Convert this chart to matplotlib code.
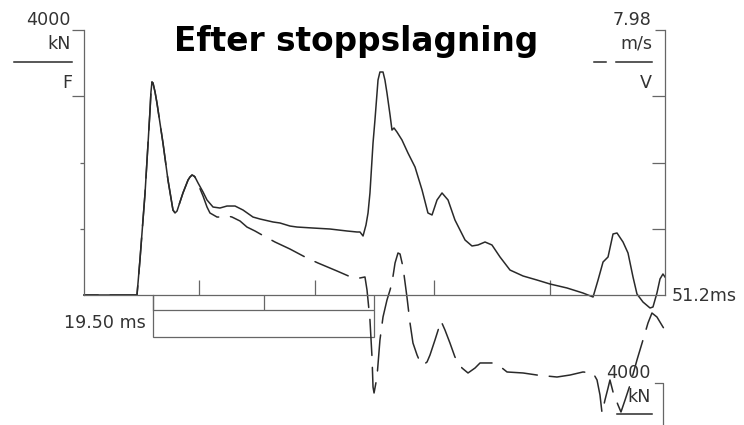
import matplotlib
matplotlib.use("Agg")
import matplotlib.pyplot as plt
from matplotlib.patches import Rectangle

# ---- data -------------------------------------------------------------
# Force signal F (kN) versus time (ms)
f_time = [0.0, 4.67, 4.93, 5.38, 5.82, 5.90, 5.99, 6.08, 6.26, 6.43, 6.96, 7.40,
          7.84, 8.02, 8.20, 8.37, 8.72, 9.17, 9.34, 9.52, 9.69, 9.78, 10.05,
          10.49, 10.84, 11.37, 11.98, 12.60, 13.31, 14.01, 14.89, 15.51, 16.66,
          17.27, 18.15, 18.77, 20.18, 21.68, 23.18, 24.06, 24.32, 24.59, 24.85,
          25.03, 25.20, 25.47, 25.64, 25.91, 26.08, 26.35, 26.52, 26.70, 26.97,
          27.14, 27.32, 27.58, 28.02, 28.55, 29.17, 29.79, 30.31, 30.67, 31.11,
          31.55, 32.08, 32.69, 33.58, 34.19, 34.72, 35.34, 35.95, 36.66, 37.54,
          38.69, 39.92, 41.07, 42.56, 43.97, 44.86, 45.30, 45.74, 46.18, 46.62,
          46.97, 47.50, 47.94, 48.38, 48.73, 49.26, 49.88, 50.14, 50.49, 50.76,
          51.02, 51.2]
f_kn = [0, 0, 528, 1540, 2792, 3064, 3215, 3200, 3064, 2898, 2294, 1736,
        1283, 1238, 1268, 1358, 1540, 1736, 1781, 1811, 1796, 1781, 1691,
        1555, 1434, 1328, 1313, 1343, 1343, 1283, 1177, 1147, 1102,
        1087, 1041, 1026, 1011, 996, 966, 951, 951, 891, 1057,
        1238, 1540, 2294, 2641, 3245, 3366, 3366, 3245, 3049, 2717,
        2490, 2521, 2460, 2340, 2143, 1932, 1585, 1238, 1208, 1434,
        1540, 1434, 1132, 830, 740, 755, 800, 755, 574, 377,
        287, 226, 166, 106, 30, -30, 226, 498, 574, 921,
        936, 800, 634, 272, 15, -106, -196, -181, 30, 242,
        317, 272]

# Velocity signal V, scaled by impedance (kN equivalent, 4000 kN = 7.98 m/s)
v_time = [0.0, 4.67, 4.93, 5.38, 5.82, 5.90, 5.99, 6.08, 6.26, 6.43, 6.96, 7.40,
          7.84, 8.02, 8.20, 8.37, 8.72, 9.17, 9.34, 9.52, 9.69, 9.78, 10.05,
          10.49, 10.84, 11.10, 11.72, 12.16, 12.69, 13.04, 13.75, 14.36, 15.07,
          15.69, 16.83, 18.15, 19.65, 20.62, 22.30, 23.71, 24.32, 24.76, 24.94,
          25.20, 25.38, 25.47, 25.56, 25.82, 26.08, 26.35, 26.70, 26.97, 27.14,
          27.41, 27.67, 27.85, 28.11, 28.46, 28.73, 28.99, 29.35, 29.61, 29.87,
          30.23, 30.49, 30.93, 31.46, 31.81, 32.25, 32.69, 33.31, 33.84, 34.46,
          34.90, 35.95, 36.84, 37.28, 38.69, 39.92, 41.68, 42.83, 43.97, 44.86,
          45.21, 45.47, 45.65, 45.91, 46.18, 46.35, 46.62, 47.06, 47.32, 47.68,
          48.12, 48.73, 49.26, 49.70, 50.05, 50.49, 51.02, 51.2]
v_kn = [0, 0, 528, 1540, 2792, 3064, 3215, 3200, 3064, 2898, 2294, 1736,
        1283, 1238, 1268, 1358, 1540, 1736, 1781, 1811, 1796, 1781, 1675,
        1494, 1328, 1238, 1177, 1177, 1192, 1177, 1117, 1026, 966,
        906, 800, 694, 558, 483, 362, 257, 257, 272, 75,
        -377, -936, -1389, -1479, -1238, -679, -332, -75, 75, 181,
        483, 634, 619, 423, -30, -423, -725, -906, -1011, -1057,
        -1011, -906, -679, -392, -528, -725, -936, -1102, -1177, -1102,
        -1026, -1026, -1102, -1162, -1177, -1208, -1238, -1208, -1162, -1177,
        -1283, -1509, -1781, -1585, -1404, -1283, -1464, -1660, -1766, -1585,
        -1358, -981, -679, -423, -272, -332, -483, -528]

t_end = 51.2           # ms, record length
f_scale = 4000         # kN, full scale of F
v_scale_text = "7.98"  # m/s, full scale of V
wave_start = 6.08      # ms, start of the 2L/c marker
wave_time = 19.50      # ms, 2L/c
time_ticks = [10.1, 20.4, 30.8, 41.1]

# ---- figure -----------------------------------------------------------
W, H = 744, 425
fig = plt.figure(figsize=(W / 100, H / 100), dpi=100)
fig.patch.set_facecolor("white")
plt.rcParams["lines.scale_dashes"] = False

def px(x, y):
    return x / W, 1 - y / H

axis_col = "#666666"
line_col = "#2a2a2a"
text_col = "#333333"

ax = fig.add_axes([84 / W, (H - 295) / H, 581 / W, 265 / H])
ax.set_xlim(0, t_end)
ax.set_ylim(0, f_scale)
ax.patch.set_alpha(0)
for s in ("top", "right"):
    ax.spines[s].set_visible(False)
for s in ("left", "bottom"):
    ax.spines[s].set_color(axis_col)
    ax.spines[s].set_linewidth(0.9)

# left axis ticks
ax.set_yticks([1000, 2000])
ax.set_yticks([3000, 4000], minor=True)
ax.tick_params(axis="y", which="major", direction="out", length=3,
               color=axis_col, width=0.9, labelleft=False)
ax.tick_params(axis="y", which="minor", direction="out", length=9,
               color=axis_col, width=0.9, labelleft=False)

# time ticks: upward marks and the 2L/c marks below the axis
ax.set_xticks(time_ticks)
ax.set_xticks([wave_start, wave_start + wave_time / 2, wave_start + wave_time],
              minor=True)
ax.tick_params(axis="x", which="major", direction="in", length=10.8,
               color=axis_col, width=0.9, labelbottom=False)
ax.tick_params(axis="x", which="minor", direction="out", length=10.8,
               color=axis_col, width=0.9, labelbottom=False)

# right axis
ax2 = ax.twinx()
ax2.set_ylim(0, f_scale)
for s in ("top", "left", "bottom"):
    ax2.spines[s].set_visible(False)
ax2.spines["right"].set_color(axis_col)
ax2.spines["right"].set_linewidth(0.9)
ax2.set_yticks([1000, 2000, 3000])
ax2.set_yticks([4000], minor=True)
ax2.tick_params(axis="y", which="major", direction="in", length=9.4,
                color=axis_col, width=0.9, labelright=False)
ax2.tick_params(axis="y", which="minor", direction="in", length=7,
                color=axis_col, width=0.9, labelright=False)

# 2L/c box below the time axis
box_top = -226
box_bot = -634
ax.add_patch(Rectangle((wave_start, box_bot), wave_time, box_top - box_bot,
                       fill=False, edgecolor=axis_col, linewidth=0.9,
                       clip_on=False))
ax.plot([wave_start, wave_start], [box_top, 0], color=axis_col, lw=0.9,
        clip_on=False)

# signals
ax.plot(f_time, f_kn, color=line_col, lw=1.1, clip_on=False,
        solid_joinstyle="round")
vl, = ax.plot(v_time, v_kn, color=line_col, lw=1.1, clip_on=False,
              dash_capstyle="round", dash_joinstyle="round")
vl.set_linestyle((15.8, (26, 8.6)))

# ---- text ---------------------------------------------------------------
fs = 12.6
fam = "DejaVu Sans"
fig.text(*px(356, 42), "Efter stoppslagning", ha="center", va="center",
         fontsize=23.6, fontweight="bold", family="DejaVu Sans",
         color="black")

fig.text(*px(71, 20), str(f_scale), ha="right", va="center", fontsize=fs,
         family=fam, color=text_col)
fig.text(*px(71, 44), "kN", ha="right", va="center", fontsize=fs,
         family=fam, color=text_col)
fig.add_artist(plt.Line2D([14 / W, 72 / W], [1 - 62 / H] * 2,
                          color=line_col, lw=1.1))
fig.text(*px(72, 83), "F", ha="right", va="center", fontsize=fs,
         family=fam, color=text_col)

fig.text(*px(651, 20), v_scale_text, ha="right", va="center", fontsize=fs,
         family=fam, color=text_col)
fig.text(*px(652, 44), "m/s", ha="right", va="center", fontsize=fs,
         family=fam, color=text_col)
fig.add_artist(plt.Line2D([594 / W, 606 / W], [1 - 62 / H] * 2,
                          color=line_col, lw=1.1))
fig.add_artist(plt.Line2D([616 / W, 652 / W], [1 - 62 / H] * 2,
                          color=line_col, lw=1.1))
fig.text(*px(652, 83), "V", ha="right", va="center", fontsize=fs,
         family=fam, color=text_col)

fig.text(*px(672, 296), f"{t_end}ms", ha="left", va="center", fontsize=fs,
         family=fam, color=text_col)
fig.text(*px(146, 323), f"{wave_time:.2f} ms", ha="right", va="center",
         fontsize=fs, family=fam, color=text_col)

# lower force scale
fig.text(*px(651, 373), str(f_scale), ha="right", va="center", fontsize=fs,
         family=fam, color=text_col)
fig.text(*px(651, 397), "kN", ha="right", va="center", fontsize=fs,
         family=fam, color=text_col)
fig.add_artist(plt.Line2D([617 / W, 652 / W], [1 - 414 / H] * 2,
                          color=line_col, lw=1.1))
fig.add_artist(plt.Line2D([655 / W, 663 / W, 663 / W],
                          [1 - 383 / H, 1 - 383 / H, 0.0],
                          color=axis_col, lw=0.9))

fig.savefig("out.png", dpi=100, facecolor="white")
